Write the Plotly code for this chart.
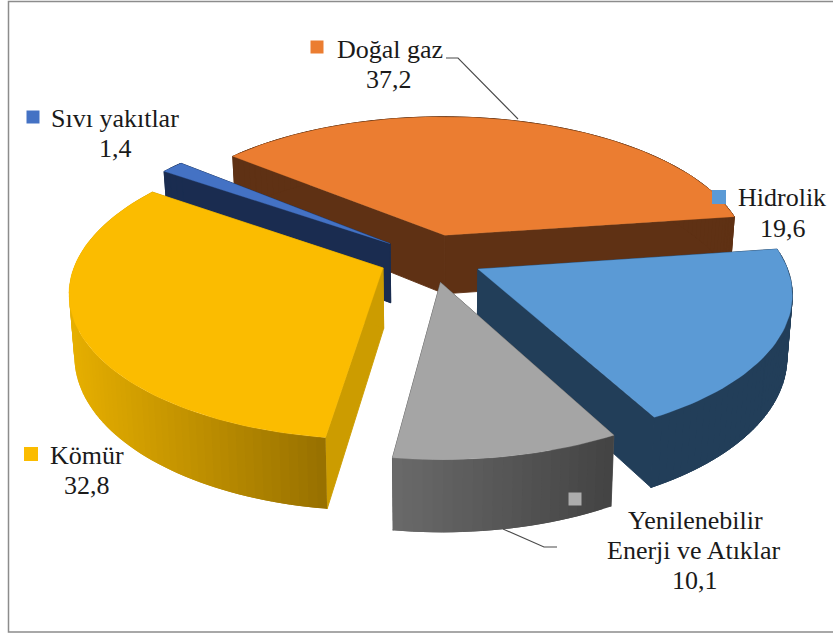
import numpy as np
import plotly.graph_objects as go

# --- data -------------------------------------------------------------
categories = ["Doğal gaz", "Hidrolik", "Yenilenebilir Enerji ve Atıklar", "Kömür", "Sıvı yakıtlar"]
values = [37.2, 19.6, 10.1, 32.8, 1.4]
value_labels = ["37,2", "19,6", "10,1", "32,8", "1,4"]
top_colors = ["#EB7D31", "#5B9AD5", "#A5A5A5", "#FBBC00", "#4472C4"]
legend_colors = ["#EB7D31", "#5B9AD5", "#ADADAD", "#FBBC00", "#4472C4"]
radial_colors = ["#5F3114", "#223E59", "#555555", "#CC9C00", "#1A2C50"]
wall_left = ["#5F3114", "#223E59", "#6A6A6A", "#E6AF00", "#1A2C50"]
wall_right = ["#5F3114", "#223E59", "#434343", "#977000", "#1A2C50"]
draw_order = [0, 4, 3, 1, 2]

# --- pie geometry (tilted, perspective, exploded) ---------------------
START_DEG = -50.5
CX, CY = 431.0, 258.0
RX, RY = 306.0, 142.5
PERSP = 0.15
EXPLODE = 0.17
DEPTH = 60.0
TAPER = 0.985


def project(x, y):
    s = 1.0 / (1.0 + PERSP * y)
    return CX + RX * x * s, CY - RY * y * s, s


def lower(sx, sy, s):
    return CX + (sx - CX) * TAPER, sy + DEPTH * s


def hex_mix(a, b, t):
    ca = [int(a[i:i + 2], 16) for i in (1, 3, 5)]
    cb = [int(b[i:i + 2], 16) for i in (1, 3, 5)]
    return "rgb(%d,%d,%d)" % tuple(round(p + (q - p) * t) for p, q in zip(ca, cb))


fig = go.Figure()


def poly(xs, ys, color, lw=0.0):
    fig.add_trace(go.Scatter(
        x=list(xs) + [xs[0]], y=list(ys) + [ys[0]], mode="lines", fill="toself",
        fillcolor=color, line=dict(color=color, width=lw),
        hoverinfo="skip", showlegend=False))


total = sum(values)
edges = START_DEG + np.concatenate([[0], np.cumsum(values)]) / total * 360.0

for idx in draw_order:
    a0, a1 = edges[idx], edges[idx + 1]
    mid = np.radians((a0 + a1) / 2)
    ox, oy = EXPLODE * np.sin(mid), EXPLODE * np.cos(mid)
    th = np.radians(np.linspace(a0, a1, max(int((a1 - a0) / 1.5), 3) + 1))
    rim = [project(ox + np.sin(t), oy + np.cos(t)) for t in th]
    apex = project(ox, oy)
    rx = np.array([p[0] for p in rim])
    ry = np.array([p[1] for p in rim])
    apex_lo = lower(*apex)
    flat_wall = wall_left[idx] == wall_right[idx]

    # radial faces; a thin same-colour outline closes the seam at the apex
    for p in (rim[0], rim[-1]):
        lo = lower(*p)
        poly([apex[0], p[0], lo[0], apex_lo[0]], [apex[1], p[1], lo[1], apex_lo[1]],
             radial_colors[idx], lw=0.9)

    # outer wall, horizontal gradient across the slice; strips overlap to hide seams
    span = max(rx.max() - rx.min(), 1)
    n = len(rim)
    for i in range(n - 1):
        seg = rim[i:min(i + 3, n)]
        low = [lower(*p) for p in seg]
        t = ((rim[i][0] + rim[i + 1][0]) / 2 - rx.min()) / span
        poly([p[0] for p in seg] + [p[0] for p in reversed(low)],
             [p[1] for p in seg] + [p[1] for p in reversed(low)],
             hex_mix(wall_left[idx], wall_right[idx], t), lw=0.9 if flat_wall else 0.0)

    # top face
    poly([apex[0]] + list(rx), [apex[1]] + list(ry), top_colors[idx], lw=0.3)

# --- leader lines -----------------------------------------------------
leaders = [([446, 458, 518], [58, 58, 119]), ([503, 544, 557], [529, 547, 547])]
for lx, ly in leaders:
    fig.add_trace(go.Scatter(x=lx, y=ly, mode="lines", line=dict(color="#4A4A4A", width=1.1),
                             hoverinfo="skip", showlegend=False))

# --- legend keys ------------------------------------------------------
key_x = [317, 719, 575, 31, 33]
key_y = [47, 197, 499, 454, 117]
key_size = [13, 14, 13, 14, 13]
fig.add_trace(go.Scatter(x=key_x, y=key_y, mode="markers",
                         marker=dict(symbol="square", size=key_size, color=legend_colors,
                                     opacity=1, line=dict(width=0)),
                         hoverinfo="skip", showlegend=False))

# --- text -------------------------------------------------------------
labels = [
    ("Doğal gaz", 390, 49), (value_labels[0], 389, 79),
    ("Hidrolik", 782, 197), (value_labels[1], 783, 228),
    ("Yenilenebilir", 695, 520), ("Enerji ve Atıklar", 694, 550), (value_labels[2], 695, 580),
    ("Kömür", 87, 455), (value_labels[3], 87, 485),
    ("Sıvı yakıtlar", 115, 118), (value_labels[4], 115, 148),
]
annotations = [dict(x=x, y=y, text=t, showarrow=False, xref="x", yref="y", xanchor="center", yanchor="middle",
                    font=dict(family="Liberation Serif", size=26, color="#1A1A1A")) for t, x, y in labels]

# chart frame
shapes = [dict(type="rect", xref="x", yref="y", x0=8.5, y0=1.5, x1=840, y1=632,
               line=dict(color="#8C8C8C", width=1.5), fillcolor="rgba(0,0,0,0)", layer="below")]

fig.update_layout(
    width=833, height=635, margin=dict(l=0, r=0, t=0, b=0),
    paper_bgcolor="white", plot_bgcolor="white", showlegend=False,
    xaxis=dict(range=[0, 833], visible=False, fixedrange=True),
    yaxis=dict(range=[635, 0], visible=False, fixedrange=True),
    annotations=annotations, shapes=shapes,
)
fig.write_html("out.html", post_script="document.body.style.margin='0';", config={"displayModeBar": False})
